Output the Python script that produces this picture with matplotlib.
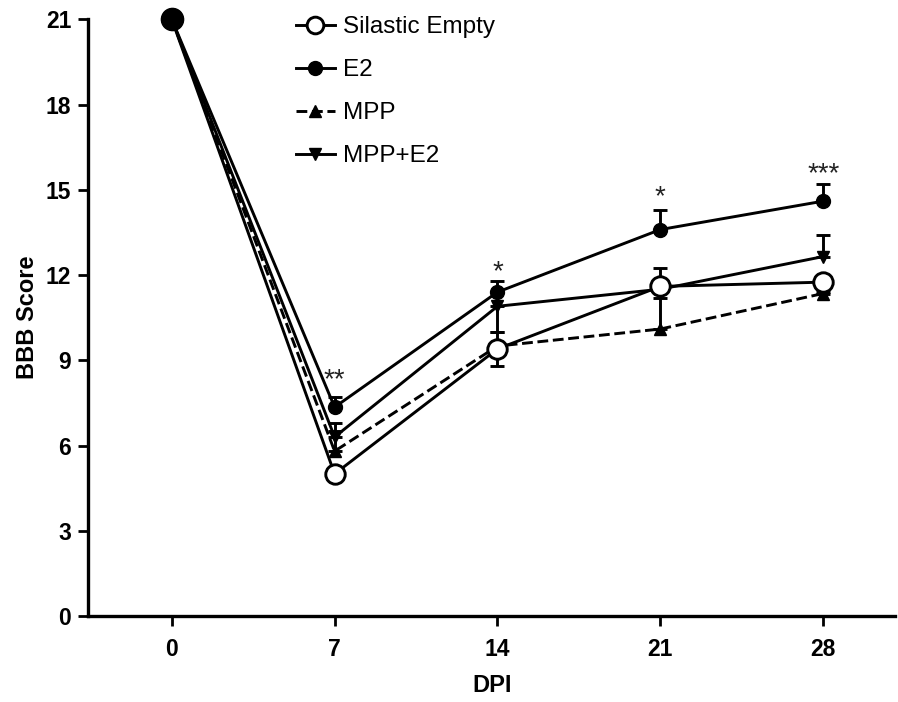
import numpy as np
import matplotlib.pyplot as plt
from matplotlib.lines import Line2D

plt.rcParams['font.family'] = ['Liberation Sans', 'DejaVu Sans']

#%% data
dpi_days = [0, 7, 14, 21, 28]

silastic = [21, 5.0, 9.4, 11.6, 11.75]
silastic_lo = [0, 0.2, 0.6, 0.4, 0.35]
silastic_hi = [0, 0, 0, 0, 0]

e2 = [21, 7.35, 11.4, 13.6, 14.6]
e2_lo = [0, 0, 0, 0, 0]
e2_hi = [0, 0.35, 0.4, 0.7, 0.6]

mpp = [21, 5.8, 9.5, 10.1, 11.35]
mpp_lo = [0, 0, 0, 0, 0]
mpp_hi = [0, 0.7, 0.5, 1.3, 0.3]

mpp_e2 = [21, 6.3, 10.9, 11.5, 12.65]
mpp_e2_lo = [0, 0, 0.9, 0, 0]
mpp_e2_hi = [0, 0.5, 0, 0.75, 0.75]

stars = ['', '**', '*', '*', '***']
star_y = [0, 8.05, 11.85, 14.5, 15.3]

#%% plot
fig = plt.figure(figsize=(8.98, 7.02), dpi=100)
ax = fig.add_axes([0.098, 0.1225, 0.899, 0.850])

lw = 2.1
kw = dict(color='black', lw=lw, capsize=5, capthick=lw, elinewidth=lw, clip_on=False)

ax.errorbar(dpi_days, mpp, yerr=[mpp_lo, mpp_hi], ls='--', marker='^', ms=9, **kw)
ax.errorbar(dpi_days, mpp_e2, yerr=[mpp_e2_lo, mpp_e2_hi], ls='-', marker='v', ms=9, **kw)
ax.errorbar(dpi_days, e2, yerr=[e2_lo, e2_hi], ls='-', marker='o', ms=10, **kw)
ax.errorbar(dpi_days, silastic, yerr=[silastic_lo, silastic_hi], ls='-', marker='o',
            ms=14, mfc='white', mew=lw, **kw)
# day 0 point is a big filled circle
ax.plot(dpi_days[:1], silastic[:1], 'o', color='black', ms=16, clip_on=False, zorder=5)

for x, s, y in zip(dpi_days, stars, star_y):
    if s:
        ax.text(x, y, s, ha='center', va='baseline', fontsize=20, color='#222222')

ax.set_xlim(-3.6, 31.1)
ax.set_ylim(0, 21)
ax.set_xticks(dpi_days)
ax.set_yticks(np.arange(0, 22, 3))
ax.set_xlabel('DPI', fontsize=17, fontweight='bold', labelpad=9)
ax.set_ylabel('BBB Score', fontsize=17, fontweight='bold', labelpad=5)
ax.tick_params(labelsize=16.5, width=2, length=7)
ax.tick_params(axis='x', pad=9)
ax.tick_params(axis='y', pad=5)
for t in ax.get_xticklabels() + ax.get_yticklabels():
    t.set_fontweight('bold')
for s in ['top', 'right']:
    ax.spines[s].set_visible(False)
for s in ['left', 'bottom']:
    ax.spines[s].set_linewidth(2.4)

handles = [
    Line2D([], [], color='black', lw=lw, marker='o', ms=12, mfc='white', mew=lw),
    Line2D([], [], color='black', lw=lw, marker='o', ms=10),
    Line2D([], [], color='black', lw=lw, ls='--', marker='^', ms=9),
    Line2D([], [], color='black', lw=lw, marker='v', ms=9),
]
labels = ['Silastic Empty', 'E2', 'MPP', 'MPP+E2']
ax.legend(handles, labels, loc='upper left', bbox_to_anchor=(296 / 898, 1 - 16 / 702),
          bbox_transform=fig.transFigure, frameon=False, borderpad=0, borderaxespad=0,
          fontsize=17.5, handlelength=1.6, labelspacing=0.87, handletextpad=0.35)

plt.savefig('out.png')
